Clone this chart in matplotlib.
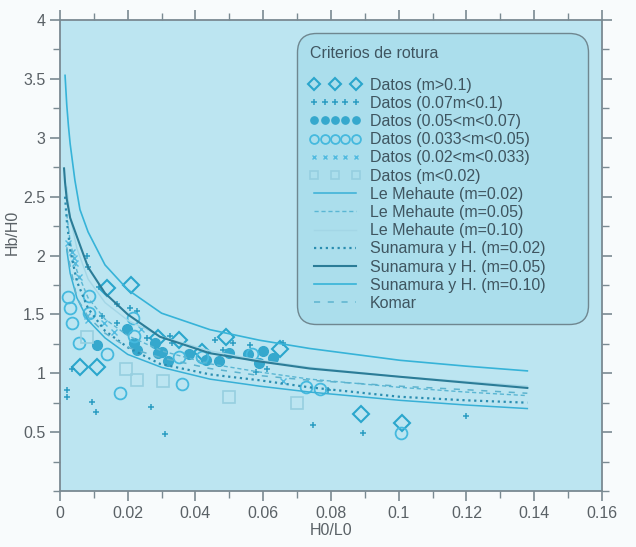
import matplotlib
matplotlib.use('Agg')
import matplotlib.pyplot as plt
from matplotlib.legend_handler import HandlerLine2D
from matplotlib.ticker import MultipleLocator

plt.rcParams['font.family'] = ['Liberation Sans', 'DejaVu Sans']

# Datos medidos (H0/L0, Hb/H0) por rango de pendiente
diam_x = [0.006, 0.011, 0.014, 0.021, 0.029, 0.035, 0.042, 0.049, 0.065, 0.089, 0.101]
diam_y = [1.05, 1.05, 1.72, 1.75, 1.30, 1.28, 1.18, 1.31, 1.21, 0.65, 0.58]

plus_x = [0.002, 0.002, 0.0035, 0.008, 0.0083, 0.0094, 0.0106, 0.0115, 0.0124, 0.0168,
          0.0168, 0.0207, 0.0227, 0.0257, 0.027, 0.031, 0.0325, 0.033, 0.0458, 0.048,
          0.051, 0.056, 0.058, 0.061, 0.066, 0.0747, 0.079, 0.0894, 0.120]
plus_y = [0.86, 0.80, 1.04, 2.0, 1.9, 0.76, 0.67, 1.73, 1.49, 1.59,
          1.43, 1.55, 1.53, 1.30, 0.71, 0.48, 1.32, 1.26, 1.28, 1.2,
          1.26, 1.24, 1.01, 1.04, 1.26, 0.56, 0.86, 0.49, 0.64]

fill_x = [0.011, 0.0198, 0.022, 0.0227, 0.028, 0.029, 0.030, 0.032, 0.038, 0.043,
          0.047, 0.050, 0.0555, 0.0588, 0.060, 0.063]
fill_y = [1.24, 1.38, 1.26, 1.20, 1.26, 1.17, 1.18, 1.10, 1.16, 1.11,
          1.10, 1.17, 1.16, 1.09, 1.19, 1.13]

circ_x = [0.0023, 0.003, 0.0035, 0.0056, 0.0086, 0.0086, 0.0139, 0.0177, 0.0215, 0.022,
          0.035, 0.036, 0.042, 0.0567, 0.0726, 0.0768, 0.1007]
circ_y = [1.65, 1.55, 1.43, 1.26, 1.66, 1.51, 1.16, 0.83, 1.47, 1.32,
          1.14, 0.91, 1.14, 1.16, 0.88, 0.87, 0.49]

cruz_x = [0.0024, 0.0035, 0.004, 0.0044, 0.0056, 0.008, 0.0083, 0.013, 0.016, 0.024, 0.066]
cruz_y = [2.11, 2.03, 1.98, 1.94, 1.82, 1.49, 1.45, 1.43, 1.35, 1.38, 0.93]

cuad_x = [0.008, 0.0195, 0.0227, 0.0304, 0.050, 0.070]
cuad_y = [1.31, 1.04, 0.94, 0.93, 0.80, 0.75]

# Curvas de los criterios
sun10_x = [0.0015, 0.002, 0.0025, 0.003, 0.0044, 0.0059, 0.0083, 0.0133, 0.020, 0.030,
           0.0443, 0.059, 0.0738, 0.1004, 0.12, 0.138]
sun10_y = [3.53, 3.28, 3.10, 2.95, 2.64, 2.39, 2.20, 1.92, 1.71, 1.51,
           1.37, 1.28, 1.21, 1.11, 1.06, 1.02]

sun05_x = [0.0012, 0.0015, 0.002, 0.003, 0.005, 0.0083, 0.0133, 0.020, 0.0295, 0.0443,
           0.059, 0.0738, 0.1004, 0.12, 0.138]
sun05_y = [2.74, 2.62, 2.48, 2.32, 2.16, 1.90, 1.68, 1.50, 1.31, 1.17,
           1.10, 1.04, 0.97, 0.92, 0.875]

sun02_x = [0.0015, 0.002, 0.003, 0.005, 0.0083, 0.0133, 0.020, 0.0295, 0.0443, 0.059,
           0.0738, 0.1004, 0.12, 0.138]
sun02_y = [2.50, 2.30, 2.05, 1.78, 1.55, 1.36, 1.22, 1.08, 0.99, 0.94,
           0.88, 0.80, 0.77, 0.75]

leme02_x = [0.002, 0.003, 0.005, 0.0083, 0.0133, 0.020, 0.030, 0.0443, 0.059, 0.0738,
            0.1004, 0.12, 0.138]
leme02_y = [2.05, 1.85, 1.64, 1.45, 1.30, 1.16, 1.05, 0.95, 0.89, 0.84,
            0.77, 0.73, 0.70]

leme05_x = [0.002, 0.003, 0.005, 0.0083, 0.0133, 0.020, 0.030, 0.0443, 0.059, 0.0738,
            0.1004, 0.12, 0.138]
leme05_y = [2.35, 2.12, 1.87, 1.64, 1.46, 1.32, 1.19, 1.08, 1.01, 0.95,
            0.88, 0.84, 0.81]

leme10_x = [0.002, 0.003, 0.005, 0.0083, 0.0133, 0.020, 0.030, 0.0443, 0.059, 0.0738,
            0.1004, 0.12, 0.138]
leme10_y = [2.58, 2.33, 2.06, 1.80, 1.60, 1.45, 1.31, 1.19, 1.11, 1.05,
            0.97, 0.93, 0.89]

komar_x = [0.002, 0.003, 0.005, 0.0083, 0.0133, 0.020, 0.030, 0.0443, 0.059, 0.0738,
           0.1004, 0.12, 0.138]
komar_y = [2.07, 1.91, 1.64, 1.48, 1.34, 1.22, 1.13, 1.04, 0.98, 0.94,
           0.89, 0.86, 0.83]

xticks = [0, 0.02, 0.04, 0.06, 0.08, 0.1, 0.12, 0.14, 0.16]
xlabels = ['0', '0.02', '0.04', '0.06', '0.08', '0.1', '0.12', '0.14', '0.16']
yticks = [0.5, 1, 1.5, 2, 2.5, 3, 3.5, 4]
ylabels = ['0.5', '1', '1.5', '2', '2.5', '3', '3.5', '4']

azul = '#2aa6cc'

fig = plt.figure(figsize=(6.36, 5.47), dpi=100, facecolor='#f8fbfc')
ax = fig.add_axes([0.0943, 0.1024, 0.852, 0.861])
ax.set_facecolor('#bce5f1')

h1, = ax.plot(diam_x, diam_y, 'D', mfc='none', mec=azul, mew=1.5, ms=8, label='Datos (m>0.1)')
h2, = ax.plot(plus_x, plus_y, '+', color='#2a9cc2', mew=1.1, ms=5, label='Datos (0.07m<0.1)')
h3, = ax.plot(fill_x, fill_y, 'o', color='#35a8cd', ms=7, label='Datos (0.05<m<0.07)')
h4, = ax.plot(circ_x, circ_y, 'o', mfc='none', mec='#45b9de', mew=1.3, ms=8.5, label='Datos (0.033<m<0.05)')
h5, = ax.plot(cruz_x, cruz_y, 'x', color='#52bbe0', mew=1.0, ms=4.5, label='Datos (0.02<m<0.033)')
h6, = ax.plot(cuad_x, cuad_y, 's', mfc='none', mec='#96cfe0', mew=1.2, ms=8.5, label='Datos (m<0.02)')

l1, = ax.plot(leme02_x, leme02_y, '-', color='#38b0d6', lw=1.1, label='Le Mehaute (m=0.02)')
l2, = ax.plot(leme05_x, leme05_y, '--', color='#5ab6d3', lw=1.0, dashes=(3, 2), label='Le Mehaute (m=0.05)')
l3, = ax.plot(leme10_x, leme10_y, '-', color='#a3d6e6', lw=1.0, label='Le Mehaute (m=0.10)')
l4, = ax.plot(sun02_x, sun02_y, ':', color='#2a8db0', lw=1.6, label='Sunamura y H. (m=0.02)')
l5, = ax.plot(sun05_x, sun05_y, '-', color='#2b7c97', lw=1.5, label='Sunamura y H. (m=0.05)')
l6, = ax.plot(sun10_x, sun10_y, '-', color='#36b3d8', lw=1.2, label='Sunamura y H. (m=0.10)')
l7, = ax.plot(komar_x, komar_y, '--', color='#5db3ce', lw=1.1, dashes=(4, 5), label='Komar')

ax.set_xlim(0, 0.16)
ax.set_ylim(0, 4)
ax.set_xticks(xticks)
ax.set_xticklabels(xlabels)
ax.set_yticks(yticks)
ax.set_yticklabels(ylabels)
ax.xaxis.set_minor_locator(MultipleLocator(0.01))
ax.yaxis.set_minor_locator(MultipleLocator(0.25))
ax.tick_params(which='both', direction='out', colors='#7a8a92', labelcolor='#5a6166',
               labelsize=11.5, top=True, right=True)
ax.tick_params(which='major', length=7, width=1.2)
ax.tick_params(which='minor', length=5, width=1.0)
for s in ax.spines.values():
    s.set_color('#7a8a92')
    s.set_linewidth(1.3)

ax.set_xlabel('H0/L0', fontsize=11.5, color='#5a6166', labelpad=2)
ax.set_ylabel('Hb/H0', fontsize=11.5, color='#5a6166')
ax.yaxis.set_label_coords(-0.074, 0.55)

handles = [h1, h2, h3, h4, h5, h6, l1, l2, l3, l4, l5, l6, l7]
hmap = {h1: HandlerLine2D(numpoints=3), h6: HandlerLine2D(numpoints=3)}
leg = ax.legend(handles=handles, handler_map=hmap, numpoints=5, markerscale=0.75,
                loc='upper left', bbox_to_anchor=(0.437, 0.972, 0.537, 0.0),
                mode='expand', borderaxespad=0.0,
                title='Criterios de rotura', alignment='left',
                fontsize=11.5, title_fontsize=11.5, labelspacing=0.2,
                handlelength=3.2, handletextpad=0.6, borderpad=0.8,
                fancybox=True, framealpha=1.0, facecolor='#abdeec',
                edgecolor='#6f8790')
leg.get_frame().set_linewidth(1.0)
leg.get_frame().set_boxstyle('round', pad=0.0, rounding_size=1.2)
for t in leg.get_texts():
    t.set_color('#3f5560')
leg.get_title().set_color('#3f5560')
leg._legend_box.sep = 12

fig.savefig('out.png', dpi=100, facecolor=fig.get_facecolor())
